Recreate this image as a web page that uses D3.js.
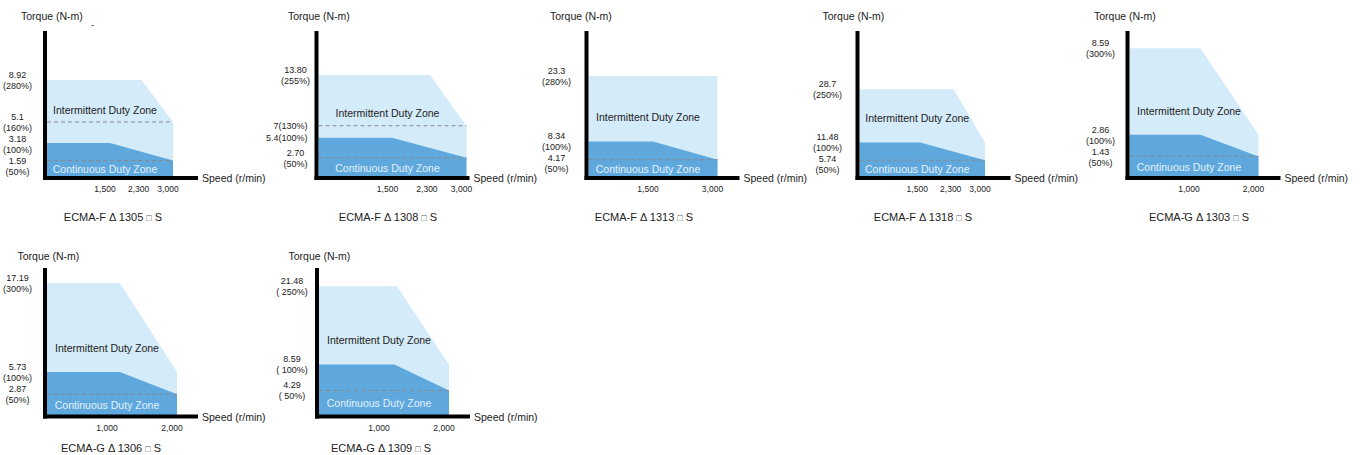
<!DOCTYPE html>
<html>
<head>
<meta charset="utf-8">
<script src="https://cdn.jsdelivr.net/npm/d3@7"></script>
<style>
  body { margin: 0; background: #fff; }
  svg { font-family: "Liberation Sans", Arial, sans-serif; }
</style>
</head>
<body>
<svg id="chart" width="1365" height="455"></svg>
<script>
// Données (une entrée par moteur)
const titles = ["ECMA-F Δ 1305 □ S", "ECMA-F Δ 1308 □ S", "ECMA-F Δ 1313 □ S", "ECMA-F Δ 1318 □ S",
                "ECMA-\u0304G Δ 1303 □ S", "ECMA-G Δ 1306 □ S", "ECMA-G Δ 1309 □ S"];
const maxSpeed = [3000, 3000, 3000, 3000, 2000, 2000, 2000];
const speedTicks = [[1500, 2300, 3000], [1500, 2300, 3000], [1500, 3000], [1500, 2300, 3000],
                    [1000, 2000], [1000, 2000], [1000, 2000]];
const speedTickText = [["1,500", "2,300", "3,000"], ["1,500", "2,300", "3,000"], ["1,500", "3,000"],
                       ["1,500", "2,300", "3,000"], ["1,000", "2,000"], ["1,000", "2,000"], ["1,000", "2,000"]];

// zone intermittente : couple max, vitesse de décrochage, couple à vitesse max
const peakTorque = [8.92, 13.80, 23.3, 28.7, 8.59, 17.19, 21.48];
const peakKnee = [2250, 2260, 3000, 2250, 1100, 1120, 1200];
const peakEnd = [5.1, 7, 23.3, 11.48, 2.86, 5.73, 8.59];
// zone continue : couple nominal, décrochage, couple à vitesse max
const ratedTorque = [3.18, 5.4, 8.34, 11.48, 2.86, 5.73, 8.59];
const ratedKnee = [1500, 1490, 1500, 1450, 1100, 1120, 1160];
const ratedEnd = [1.59, 2.70, 4.17, 5.74, 1.43, 2.87, 4.29];
// lignes pointillées
const dashedTorque = [[5.1, 1.59], [7, 2.70], [4.17], [5.74], [1.43], [2.87], [4.29]];

// étiquettes de l'axe des couples
const torqueTicks = [[8.92, 5.1, 3.18, 1.59], [13.80, 7, 5.4, 2.70], [23.3, 8.34, 4.17], [28.7, 11.48, 5.74],
                     [8.59, 2.86, 1.43], [17.19, 5.73, 2.87], [21.48, 8.59, 4.29]];
const torqueTickText = [
  [["8.92", "(280%)"], ["5.1", "(160%)"], ["3.18", "(100%)"], ["1.59", "(50%)"]],
  [["13.80", "(255%)"], ["7(130%)"], ["5.4(100%)"], ["2.70", "(50%)"]],
  [["23.3", "(280%)"], ["8.34", "(100%)"], ["4.17", "(50%)"]],
  [["28.7", "(250%)"], ["11.48", "(100%)"], ["5.74", "(50%)"]],
  [["8.59", "(300%)"], ["2.86", "(100%)"], ["1.43", "(50%)"]],
  [["17.19", "(300%)"], ["5.73", "(100%)"], ["2.87", "(50%)"]],
  [["21.48", "( 250%)"], ["8.59", "( 100%)"], ["4.29", "( 50%)"]]
];

// Mise en page
const panelX = [45, 316.5, 586.5, 857.5, 1127.5, 45, 317];
const panelRow = [0, 0, 0, 0, 0, 1, 1];
const plotW = [128, 150, 131, 127.5, 131, 132, 132];
const plotH = [98, 103, 102, 88.7, 129.7, 133.4, 130.3];
const labelDx = [-27.5, -21, -30, -30, -27, -27.5, -25];
const torqueLabelDx = [-24, -28.5, -36.5, -35, -33.5, -27.5, -28.5];
const titleDx = [68, 71.5, 57.5, 65.5, 71.5, 66, 64];
const rows = [{ top: 31, base: 178, title: 221, torqueY: 20 },
              { top: 268, base: 416.5, title: 451.5, torqueY: 259.5 }];

const colIntermittent = "#d4ebf9";
const colContinuous = "#5fa8dd";

const svg = d3.select("#chart");

titles.forEach((title, i) => {
  const ox = panelX[i];
  const row = rows[panelRow[i]];
  const g = svg.append("g").attr("class", "panel");

  const x = d3.scaleLinear().domain([0, maxSpeed[i]]).range([ox + 2, ox + plotW[i]]);
  const y = d3.scaleLinear().domain([0, peakTorque[i]]).range([row.base, row.base - plotH[i]]);
  const line = d3.line().x(d => x(d[0])).y(d => y(d[1]));

  // zones
  g.append("path")
    .attr("d", line([[0, peakTorque[i]], [peakKnee[i], peakTorque[i]], [maxSpeed[i], peakEnd[i]], [maxSpeed[i], 0], [0, 0]]) + "Z")
    .attr("fill", colIntermittent);
  g.append("path")
    .attr("d", line([[0, ratedTorque[i]], [ratedKnee[i], ratedTorque[i]], [maxSpeed[i], ratedEnd[i]], [maxSpeed[i], 0], [0, 0]]) + "Z")
    .attr("fill", colContinuous);

  // pointillés
  dashedTorque[i].forEach(v => {
    g.append("line")
      .attr("x1", x(0)).attr("x2", x(maxSpeed[i]))
      .attr("y1", y(v)).attr("y2", y(v))
      .attr("stroke", "#8a8a8a")
      .attr("stroke-width", 1)
      .attr("stroke-dasharray", "4,3");
  });

  // textes des zones
  const cx = (x(0) + x(maxSpeed[i])) / 2 - 5;
  let interY = y(ratedTorque[i]) - 24;
  if (dashedTorque[i].length > 1) interY = Math.min(interY, y(dashedTorque[i][0]) - 12);
  g.append("text")
    .attr("x", cx).attr("y", interY + 3.8)
    .attr("text-anchor", "middle")
    .style("font-size", "10.5px")
    .attr("fill", "#222")
    .text("Intermittent Duty Zone");
  g.append("text")
    .attr("x", cx).attr("y", (y(ratedEnd[i]) + row.base) / 2 + 3.8)
    .attr("text-anchor", "middle")
    .style("font-size", "10.5px")
    .attr("fill", "#e2f1fb")
    .text("Continuous Duty Zone");

  // axes
  g.append("line")
    .attr("x1", ox).attr("x2", ox)
    .attr("y1", row.top).attr("y2", row.base + 2)
    .attr("stroke", "#000").attr("stroke-width", 4);
  g.append("line")
    .attr("x1", ox - 2).attr("x2", ox + 153)
    .attr("y1", row.base).attr("y2", row.base)
    .attr("stroke", "#000").attr("stroke-width", 4);

  g.append("text")
    .attr("x", ox + torqueLabelDx[i]).attr("y", row.torqueY)
    .style("font-size", "10.5px")
    .attr("fill", "#222")
    .text("Torque (N-m)");
  g.append("text")
    .attr("x", ox + 157).attr("y", row.base + 4)
    .style("font-size", "10.5px")
    .attr("fill", "#222")
    .text("Speed (r/min)");

  // graduations vitesse
  speedTicks[i].forEach((v, k) => {
    g.append("text")
      .attr("x", x(v) - 5).attr("y", row.base + 14)
      .attr("text-anchor", "middle")
      .style("font-size", "8.5px")
      .attr("fill", "#222")
      .text(speedTickText[i][k]);
  });

  // graduations couple (décalées vers le bas si chevauchement)
  let lastBottom = -Infinity;
  torqueTicks[i].forEach((v, k) => {
    const lines = torqueTickText[i][k];
    const lh = 11;
    let first = y(v) - (lines.length - 1) * lh / 2;
    if (first < lastBottom + lh) first = lastBottom + lh;
    lastBottom = first + (lines.length - 1) * lh;
    const single = lines.length === 1;
    const t = g.append("text")
      .attr("text-anchor", single ? "end" : "middle")
      .style("font-size", "9px")
      .attr("fill", "#222");
    lines.forEach((s, j) => {
      t.append("tspan")
        .attr("x", single ? ox - 9 : ox + labelDx[i])
        .attr("y", first + j * lh + 3.2)
        .text(s);
    });
  });

  // titre
  const parts = title.split("□");
  const tt = g.append("text")
    .attr("x", ox + titleDx[i]).attr("y", row.title)
    .attr("text-anchor", "middle")
    .style("font-size", "11px")
    .attr("fill", "#222");
  tt.append("tspan").text(parts[0]);
  tt.append("tspan").style("font-size", "9px").attr("fill", "#555").text("□");
  tt.append("tspan").text(parts[1]);

  // petit trait parasite du premier schéma
  if (i === 0) {
    g.append("text")
      .attr("x", ox + 46).attr("y", row.top - 3)
      .style("font-size", "9px")
      .attr("fill", "#222")
      .text("-");
  }
});
</script>
</body>
</html>
